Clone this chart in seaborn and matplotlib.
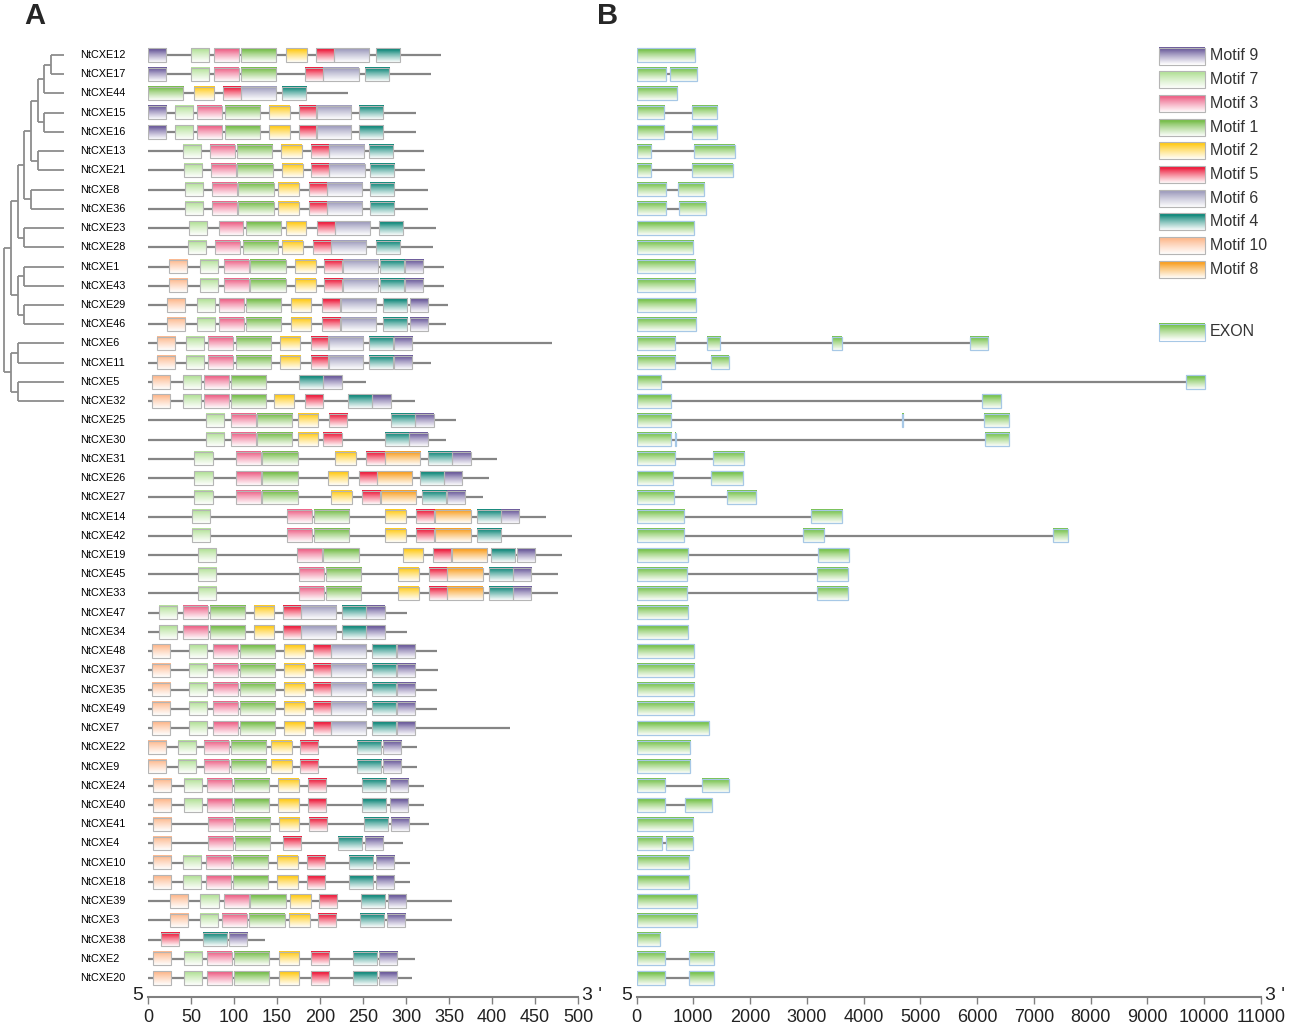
import numpy as np
import matplotlib
matplotlib.use("Agg")
import matplotlib.pyplot as plt
import seaborn as sns
from matplotlib.patches import Rectangle
from matplotlib.colors import to_rgb

sns.set_theme(style="white")
plt.rcParams['font.family'] = ['Liberation Sans', 'DejaVu Sans']

# ---------------- data ----------------
genes = ["NtCXE12", "NtCXE17", "NtCXE44", "NtCXE15", "NtCXE16", "NtCXE13", "NtCXE21",
         "NtCXE8", "NtCXE36", "NtCXE23", "NtCXE28", "NtCXE1", "NtCXE43", "NtCXE29",
         "NtCXE46", "NtCXE6", "NtCXE11", "NtCXE5", "NtCXE32", "NtCXE25", "NtCXE30",
         "NtCXE31", "NtCXE26", "NtCXE27", "NtCXE14", "NtCXE42", "NtCXE19", "NtCXE45",
         "NtCXE33", "NtCXE47", "NtCXE34", "NtCXE48", "NtCXE37", "NtCXE35", "NtCXE49",
         "NtCXE7", "NtCXE22", "NtCXE9", "NtCXE24", "NtCXE40", "NtCXE41", "NtCXE4",
         "NtCXE10", "NtCXE18", "NtCXE39", "NtCXE3", "NtCXE38", "NtCXE2", "NtCXE20"]

protein_len = [341, 329, 233, 312, 312, 321, 322, 326, 326, 335, 331, 344, 344, 349,
               347, 470, 329, 253, 311, 358, 347, 406, 397, 390, 463, 493, 481, 477,
               477, 301, 301, 336, 337, 336, 336, 421, 313, 313, 321, 321, 327, 297,
               305, 305, 354, 353, 136, 310, 307]

# (motif number, start position in aa) for each protein
motif_hits = [
    [(9, 0), (7, 50), (3, 77), (1, 108), (2, 161), (5, 195), (6, 216), (4, 265)],
    [(9, 0), (7, 50), (3, 77), (1, 108), (5, 183), (6, 204), (4, 252)],
    [(1, 0), (2, 53), (5, 87), (6, 108), (4, 156)],
    [(9, 0), (7, 31), (3, 57), (1, 89), (2, 141), (5, 175), (6, 195), (4, 245)],
    [(9, 0), (7, 31), (3, 57), (1, 89), (2, 141), (5, 175), (6, 195), (4, 245)],
    [(7, 41), (3, 72), (1, 103), (2, 155), (5, 189), (6, 210), (4, 257)],
    [(7, 42), (3, 73), (1, 104), (2, 156), (5, 190), (6, 211), (4, 258)],
    [(7, 43), (3, 74), (1, 105), (2, 151), (5, 187), (6, 208), (4, 258)],
    [(7, 43), (3, 74), (1, 105), (2, 151), (5, 187), (6, 208), (4, 258)],
    [(7, 48), (3, 82), (1, 114), (2, 160), (5, 196), (6, 217), (4, 269)],
    [(7, 46), (3, 78), (1, 110), (2, 156), (5, 192), (6, 213), (4, 265)],
    [(10, 24), (7, 60), (3, 88), (1, 119), (2, 171), (5, 205), (6, 227), (4, 270), (9, 299)],
    [(10, 24), (7, 60), (3, 88), (1, 119), (2, 171), (5, 205), (6, 227), (4, 270), (9, 299)],
    [(10, 22), (7, 57), (3, 83), (1, 114), (2, 166), (5, 202), (6, 224), (4, 273), (9, 305)],
    [(10, 22), (7, 57), (3, 83), (1, 114), (2, 166), (5, 202), (6, 224), (4, 273), (9, 305)],
    [(10, 10), (7, 44), (3, 70), (1, 102), (2, 153), (5, 189), (6, 209), (4, 257), (9, 286)],
    [(10, 10), (7, 44), (3, 70), (1, 102), (2, 153), (5, 189), (6, 209), (4, 257), (9, 286)],
    [(10, 5), (7, 41), (3, 65), (1, 96), (4, 175), (9, 204)],
    [(10, 5), (7, 41), (3, 65), (1, 96), (2, 146), (5, 182), (4, 232), (9, 261)],
    [(7, 67), (3, 96), (1, 127), (2, 174), (5, 210), (4, 282), (9, 311)],
    [(7, 67), (3, 96), (1, 127), (2, 174), (5, 204), (4, 275), (9, 304)],
    [(7, 54), (3, 102), (1, 133), (2, 218), (5, 254), (8, 275), (4, 325), (9, 354)],
    [(7, 54), (3, 102), (1, 133), (2, 209), (5, 245), (8, 266), (4, 316), (9, 344)],
    [(7, 54), (3, 102), (1, 133), (2, 213), (5, 249), (8, 271), (4, 319), (9, 348)],
    [(7, 51), (3, 162), (1, 193), (2, 276), (5, 312), (8, 334), (4, 382), (9, 410)],
    [(7, 51), (3, 162), (1, 193), (2, 276), (5, 312), (8, 334), (4, 382)],
    [(7, 58), (3, 173), (1, 204), (2, 296), (5, 331), (8, 353), (4, 399), (9, 429)],
    [(7, 58), (3, 176), (1, 207), (2, 291), (5, 327), (8, 348), (4, 396), (9, 424)],
    [(7, 58), (3, 176), (1, 207), (2, 291), (5, 327), (8, 348), (4, 396), (9, 424)],
    [(7, 13), (3, 41), (1, 72), (2, 123), (5, 157), (6, 178), (4, 225), (9, 254)],
    [(7, 13), (3, 41), (1, 72), (2, 123), (5, 157), (6, 178), (4, 225), (9, 254)],
    [(10, 5), (7, 48), (3, 76), (1, 107), (2, 158), (5, 192), (6, 213), (4, 260), (9, 289)],
    [(10, 5), (7, 48), (3, 76), (1, 107), (2, 158), (5, 192), (6, 213), (4, 260), (9, 290)],
    [(10, 5), (7, 48), (3, 76), (1, 107), (2, 158), (5, 192), (6, 213), (4, 260), (9, 289)],
    [(10, 5), (7, 48), (3, 76), (1, 107), (2, 158), (5, 192), (6, 213), (4, 260), (9, 289)],
    [(10, 5), (7, 48), (3, 76), (1, 107), (2, 158), (5, 192), (6, 213), (4, 260), (9, 289)],
    [(10, 0), (7, 35), (3, 65), (1, 96), (2, 143), (5, 177), (4, 243), (9, 273)],
    [(10, 0), (7, 35), (3, 65), (1, 96), (2, 143), (5, 177), (4, 243), (9, 273)],
    [(10, 6), (7, 42), (3, 69), (1, 100), (2, 151), (5, 186), (4, 249), (9, 281)],
    [(10, 6), (7, 42), (3, 69), (1, 100), (2, 151), (5, 186), (4, 249), (9, 281)],
    [(10, 6), (3, 70), (1, 101), (2, 152), (5, 187), (4, 251), (9, 282)],
    [(10, 6), (3, 70), (1, 101), (5, 157), (4, 221), (9, 252)],
    [(10, 6), (7, 41), (3, 68), (1, 99), (2, 150), (5, 185), (4, 234), (9, 265)],
    [(10, 6), (7, 41), (3, 68), (1, 99), (2, 150), (5, 185), (4, 234), (9, 265)],
    [(10, 26), (7, 61), (3, 88), (1, 119), (2, 165), (5, 199), (4, 248), (9, 279)],
    [(10, 25), (7, 60), (3, 86), (1, 118), (2, 164), (5, 198), (4, 247), (9, 278)],
    [(5, 15), (4, 64), (9, 94)],
    [(10, 6), (7, 42), (3, 69), (1, 100), (2, 152), (5, 189), (4, 238), (9, 269)],
    [(10, 6), (7, 42), (3, 69), (1, 100), (2, 152), (5, 189), (4, 238), (9, 269)],
]

motif_width = {1: 41, 2: 24, 3: 29, 4: 28, 5: 21, 6: 41, 7: 21, 8: 41, 9: 21, 10: 21}
legend_order = [9, 7, 3, 1, 2, 5, 6, 4, 10, 8]
motif_color = {9: '#6b5b9b', 7: '#b6e29c', 3: '#ee6489', 1: '#78be4c', 2: '#ffcb1c',
               5: '#ee1d3d', 6: '#a19fbf', 4: '#12897b', 10: '#fdba90', 8: '#f9a125'}
exon_color = '#76c24a'

# exon (start, end) in bp for each gene
exons = [
    [(0, 1033)], [(0, 518), (587, 1068)], [(0, 705)], [(0, 490), (970, 1423)],
    [(0, 490), (970, 1423)], [(0, 253), (1019, 1736)], [(0, 253), (977, 1694)],
    [(0, 518), (733, 1193)], [(0, 518), (754, 1221)], [(0, 1012)], [(0, 998)],
    [(0, 1033)], [(0, 1033)], [(0, 1054)], [(0, 1047)],
    [(0, 685), (1249, 1479), (3443, 3617), (5867, 6200)], [(0, 685), (1318, 1632)],
    [(0, 434), (9684, 10018)], [(0, 601), (6089, 6417)],
    [(0, 601), (4676, 4697), (6124, 6570)], [(0, 601), (685, 699), (6145, 6570)],
    [(0, 670), (1339, 1890)], [(0, 650), (1318, 1868)], [(0, 657), (1597, 2112)],
    [(0, 845), (3066, 3616)], [(0, 845), (2934, 3310), (7335, 7593)],
    [(0, 901), (3192, 3735)], [(0, 894), (3178, 3721)], [(0, 894), (3178, 3721)],
    [(0, 908)], [(0, 908)], [(0, 1012)], [(0, 1015)], [(0, 1015)], [(0, 1015)],
    [(0, 1273)], [(0, 945)], [(0, 945)], [(0, 503), (1159, 1632)],
    [(0, 503), (854, 1327)], [(0, 991)], [(0, 442), (526, 991)], [(0, 922)],
    [(0, 922)], [(0, 1067)], [(0, 1067)], [(0, 411)], [(0, 495), (922, 1373)],
    [(0, 495), (930, 1365)],
]

tree_newick = ("((((((((12,17),44),(15,16)),(13,21)),(8,36)),(23,28)),((1,43),(29,46))),"
               "((6,11),(5,32))),"
               "((25,30),(((31,26),27),((14,42),(19,(45,33))))),"
               "(((((47,34),48),(37,(35,49))),7),((22,9),(((24,40),(41,4)),"
               "((10,18),((39,3),(38,(2,20)))))))")

aa_ticks = list(range(0, 501, 50))
bp_ticks = list(range(0, 11001, 1000))

# ---------------- helpers ----------------
W, H = 1299, 1026
fig = plt.figure(figsize=(W / 100, H / 100), dpi=100)

def px_rect(x0, y0, x1, y1):
    return [x0 / W, 1 - y1 / H, (x1 - x0) / W, (y1 - y0) / H]

ROW0, STEP = 55, 19.23
Y_TOP, Y_BOT = 30, 997
YLIM = ((Y_BOT - ROW0) / STEP, (Y_TOP - ROW0) / STEP)
BOX_H = 13.3 / STEP

def grad_img(color, n=24):
    c = np.array(to_rgb(color))
    t = np.linspace(0, 1, n)
    f = np.clip((t - 0.12) / 0.88, 0, 1) ** 0.85 * 0.96
    img = c[None, :] * (1 - f[:, None]) + f[:, None]
    return img[:, None, :]

def gbox(ax, x0, x1, yc, h, color, edge, lw=0.8):
    ax.imshow(grad_img(color), extent=(x0, x1, yc + h / 2, yc - h / 2),
              aspect='auto', interpolation='bilinear', zorder=3)
    ax.add_patch(Rectangle((x0, yc - h / 2), x1 - x0, h, fill=False,
                           ec=edge, lw=lw, zorder=4))

def parse(s):
    pos = 0
    def node():
        nonlocal pos
        if s[pos] == '(':
            pos += 1
            kids = [node()]
            while s[pos] == ',':
                pos += 1
                kids.append(node())
            pos += 1  # ')'
            return kids
        start = pos
        while pos < len(s) and s[pos] not in ',()':
            pos += 1
        return "NtCXE" + s[start:pos]
    return node()

tree = parse(tree_newick)
row_of = {g: i for i, g in enumerate(genes)}

# ---------------- tree ----------------
ax_tree = fig.add_axes(px_rect(0, Y_TOP, 146, Y_BOT))
ax_tree.set_axis_off()
LEAF_D = 9
tree_col = '#8c8c8c'

def draw(node, depth):
    if isinstance(node, str):
        return row_of[node], LEAF_D
    ys = []
    for k in node:
        y, d = draw(k, depth + 1)
        ax_tree.plot([depth, d], [y, y], color=tree_col, lw=1.3, solid_capstyle='butt')
        ys.append(y)
    ax_tree.plot([depth, depth], [ys[0], ys[-1]], color=tree_col, lw=1.3, solid_capstyle='butt')
    return (ys[0] + ys[-1]) / 2, depth

draw(tree, 0)
label_d = (80 - 4.3) / 6.67
for i, g in enumerate(genes):
    ax_tree.text(label_d, i, g, fontsize=7.8, va='center', ha='left', color='black')
ax_tree.set_xlim(-4.3 / 6.67, (146 - 4.3) / 6.67)
ax_tree.set_ylim(*YLIM)

# ---------------- panel A : motifs ----------------
ax_A = fig.add_axes(px_rect(148, Y_TOP, 578, Y_BOT))
for i, (L, hits) in enumerate(zip(protein_len, motif_hits)):
    ax_A.plot([0, L], [i, i], color='#858585', lw=1.6, zorder=2, solid_capstyle='butt')
    for m, st in hits:
        gbox(ax_A, st, st + motif_width[m], i, BOX_H, motif_color[m], '#b5b5b5')
ax_A.set_xlim(0, 500)
ax_A.set_xticks(aa_ticks)

# ---------------- panel B : gene structure ----------------
ax_B = fig.add_axes(px_rect(636.5, Y_TOP, 1261, Y_BOT))
for i, ex in enumerate(exons):
    ax_B.plot([ex[0][0], ex[-1][1]], [i, i], color='#858585', lw=1.6, zorder=2,
              solid_capstyle='butt')
    for s0, s1 in ex:
        gbox(ax_B, s0, s1, i, BOX_H, exon_color, '#a7c8e6', lw=0.9)
ax_B.set_xlim(0, 11000)
ax_B.set_xticks(bp_ticks)

for ax in (ax_A, ax_B):
    ax.set_ylim(*YLIM)
    ax.set_yticks([])
    for s in ('top', 'left', 'right'):
        ax.spines[s].set_visible(False)
    ax.spines['bottom'].set_color('#808080')
    ax.spines['bottom'].set_linewidth(1.5)
    ax.tick_params(axis='x', bottom=True, direction='out', length=5, width=1,
                   color='#808080', labelsize=13, labelcolor='#222222', pad=4)
    for lab in ax.get_xticklabels():
        lab.set_fontfamily('Liberation Sans')
    ax.patch.set_alpha(0)
    ax.grid(False)

# 5' / 3' markers
for x, txt, ha in [(143, "5", 'right'), (582, "3 '", 'left'),
                   (632, "5", 'right'), (1265, "3 '", 'left')]:
    fig.text(x / W, 1 - 996 / H, txt, ha=ha, va='center', fontsize=14,
             color='#222222', family='Liberation Sans')

# panel letters
fig.text(24 / W, 1 - 16 / H, "A", fontsize=21, fontweight='bold', va='center', ha='left')
fig.text(597 / W, 1 - 16 / H, "B", fontsize=21, fontweight='bold', va='center', ha='left')

# ---------------- legend ----------------
ax_leg = fig.add_axes([0, 0, 1, 1])
ax_leg.set_axis_off()
for k, m in enumerate(legend_order):
    yc = 56 + 23.7 * k
    gbox(ax_leg, 1159, 1205, yc, 17, motif_color[m], '#b5b5b5')
    ax_leg.text(1210, yc, f"Motif {m}", fontsize=11.5, va='center', ha='left', color='#333333')
gbox(ax_leg, 1159, 1205, 332, 17, exon_color, '#a7c8e6')
ax_leg.text(1210, 332, "EXON", fontsize=11.5, va='center', ha='left', color='#333333')
ax_leg.set_xlim(0, W)
ax_leg.set_ylim(H, 0)

fig.savefig("out.png", dpi=100)
